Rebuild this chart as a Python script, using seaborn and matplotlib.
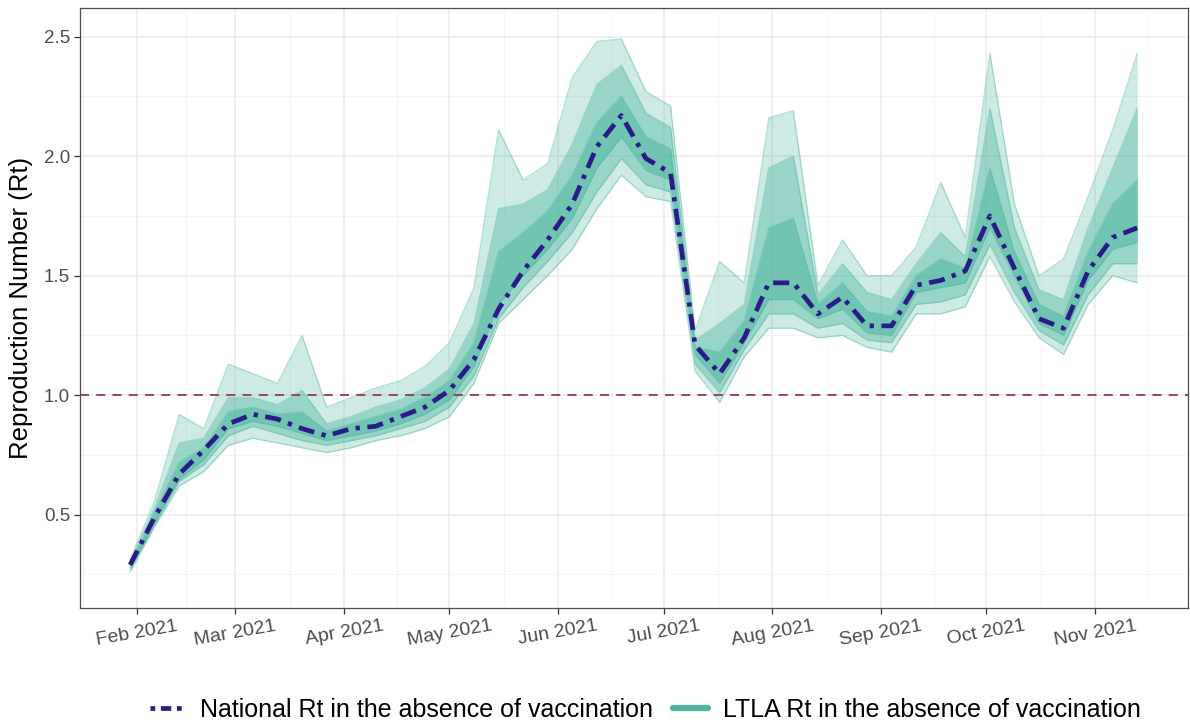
import numpy as np
import pandas as pd
import matplotlib
matplotlib.use("Agg")
import matplotlib.pyplot as plt
import matplotlib.dates as mdates
from matplotlib.lines import Line2D
import seaborn as sns

# weekly estimates, Sat 30 Jan -> Sat 13 Nov 2021
weeks = pd.date_range("2021-01-30", periods=42, freq="7D")

national_rt = [0.29, 0.49, 0.67, 0.77, 0.88, 0.92, 0.90, 0.86, 0.83, 0.86,
               0.87, 0.91, 0.95, 1.02, 1.15, 1.36, 1.52, 1.65, 1.80, 2.04,
               2.17, 1.99, 1.93, 1.21, 1.09, 1.24, 1.47, 1.47, 1.34, 1.41,
               1.29, 1.29, 1.46, 1.48, 1.52, 1.75, 1.53, 1.32, 1.28, 1.52,
               1.66, 1.70]

# spread of the LTLA curves (envelope / inner bands)
ltla_min = [0.26, 0.45, 0.62, 0.68, 0.79, 0.82, 0.80, 0.78, 0.76, 0.78,
            0.81, 0.83, 0.86, 0.91, 1.05, 1.30, 1.40, 1.50, 1.61, 1.78,
            1.92, 1.83, 1.81, 1.10, 0.97, 1.16, 1.28, 1.28, 1.24, 1.25,
            1.20, 1.18, 1.34, 1.34, 1.37, 1.58, 1.39, 1.24, 1.17, 1.38,
            1.50, 1.47]
ltla_p10 = [0.27, 0.46, 0.64, 0.71, 0.83, 0.87, 0.84, 0.81, 0.79, 0.81,
            0.83, 0.86, 0.89, 0.95, 1.08, 1.32, 1.45, 1.56, 1.68, 1.85,
            1.99, 1.88, 1.85, 1.13, 1.01, 1.19, 1.34, 1.34, 1.28, 1.30,
            1.23, 1.22, 1.38, 1.39, 1.42, 1.63, 1.43, 1.27, 1.21, 1.42,
            1.55, 1.55]
ltla_p25 = [0.28, 0.47, 0.65, 0.73, 0.86, 0.89, 0.87, 0.84, 0.81, 0.83,
            0.85, 0.88, 0.92, 0.98, 1.12, 1.38, 1.50, 1.61, 1.74, 1.95,
            2.08, 1.94, 1.90, 1.17, 1.05, 1.22, 1.40, 1.40, 1.32, 1.36,
            1.26, 1.25, 1.43, 1.45, 1.47, 1.70, 1.50, 1.30, 1.25, 1.48,
            1.61, 1.64]
ltla_p75 = [0.29, 0.51, 0.72, 0.78, 0.93, 0.95, 0.92, 0.93, 0.85, 0.88,
            0.91, 0.94, 0.99, 1.06, 1.22, 1.60, 1.68, 1.77, 1.92, 2.14,
            2.25, 2.08, 2.03, 1.20, 1.18, 1.31, 1.70, 1.74, 1.38, 1.47,
            1.35, 1.33, 1.50, 1.57, 1.53, 1.95, 1.60, 1.38, 1.33, 1.60,
            1.80, 1.90]
ltla_p90 = [0.30, 0.53, 0.80, 0.82, 0.99, 0.99, 0.96, 1.02, 0.88, 0.91,
            0.95, 0.98, 1.03, 1.11, 1.30, 1.78, 1.80, 1.86, 2.05, 2.30,
            2.38, 2.18, 2.12, 1.23, 1.30, 1.38, 1.95, 2.00, 1.42, 1.55,
            1.43, 1.40, 1.55, 1.68, 1.58, 2.20, 1.70, 1.44, 1.40, 1.70,
            1.95, 2.20]
ltla_max = [0.31, 0.56, 0.92, 0.86, 1.13, 1.09, 1.05, 1.25, 0.95, 0.99,
            1.03, 1.06, 1.12, 1.22, 1.45, 2.11, 1.90, 1.97, 2.33, 2.48,
            2.49, 2.27, 2.21, 1.27, 1.56, 1.47, 2.16, 2.19, 1.46, 1.65,
            1.50, 1.50, 1.62, 1.89, 1.66, 2.43, 1.80, 1.50, 1.57, 1.83,
            2.11, 2.43]

month_ticks = pd.date_range("2021-02-01", "2021-11-01", freq="MS")

teal = "#4bb59e"
navy = "#2b1b89"
maroon = "#8e3a5f"

sns.set_theme(style="whitegrid", rc={"axes.edgecolor": "#4d4d4d",
                                     "grid.color": "#ebebeb",
                                     "axes.linewidth": 0.9})
plt.rcParams['font.family'] = ['Liberation Sans', 'DejaVu Sans']

fig, ax = plt.subplots(figsize=(11.9, 7.22), dpi=100)
fig.subplots_adjust(left=0.067, right=0.998, top=0.989, bottom=0.158)

# shaded density of the LTLA curves
ax.fill_between(weeks, ltla_min, ltla_max, color=teal, alpha=0.27, lw=0)
ax.fill_between(weeks, ltla_p10, ltla_p90, color=teal, alpha=0.40, lw=0)
ax.fill_between(weeks, ltla_p25, ltla_p75, color=teal, alpha=0.50, lw=0)

band = pd.DataFrame({"date": weeks, "min": ltla_min, "p10": ltla_p10,
                     "p25": ltla_p25, "p75": ltla_p75, "p90": ltla_p90,
                     "max": ltla_max})
long = band.melt(id_vars="date", var_name="curve", value_name="rt")
sns.lineplot(data=long, x="date", y="rt", units="curve", estimator=None,
             color=teal, alpha=0.4, lw=1.0, ax=ax, legend=False)

ax.axhline(1.0, color=maroon, lw=1.3, ls=(0, (5, 4)))

sns.lineplot(x=weeks, y=national_rt, color=navy, lw=3.4, ax=ax,
             linestyle=(0, (3.4, 1.6, 0.9, 1.6)))

# axes
span = weeks[-1] - weeks[0]
ax.set_xlim(weeks[0] - span * 0.05, weeks[-1] + span * 0.05)
ax.set_ylim(0.11, 2.62)
ax.set_yticks([0.5, 1.0, 1.5, 2.0, 2.5])
ax.set_yticklabels(["0.5", "1.0", "1.5", "2.0", "2.5"])
ax.set_yticks([0.25, 0.75, 1.25, 1.75, 2.25], minor=True)

ax.set_xticks(month_ticks)
ax.set_xticklabels([d.strftime("%b %Y") for d in month_ticks],
                   rotation=10, ha="center")
all_months = pd.date_range("2021-01-01", "2021-12-01", freq="MS")
mnum = mdates.date2num(all_months)
ax.set_xticks((mnum[:-1] + mnum[1:]) / 2, minor=True)

ax.grid(which="major", color="#ebebeb", lw=1.1)
ax.grid(which="minor", color="#f2f2f2", lw=0.6)
ax.tick_params(which="major", bottom=True, left=True, length=4,
               width=0.9, color="#333333", labelsize=14, labelcolor="#4d4d4d",
               pad=3)
ax.tick_params(axis="y", labelsize=13.5)
ax.tick_params(which="minor", bottom=False, left=False)
ax.set_xlabel("")
ax.set_ylabel("Reproduction Number (Rt)", fontsize=18.5, color="black", labelpad=8)

handles = [Line2D([], [], color=navy, lw=3.4, linestyle=(0, (1, 1.2, 2.2, 1.2))),
           Line2D([], [], color=teal, lw=4.5)]
labels = ["National Rt in the absence of vaccination",
          "LTLA Rt in the absence of vaccination"]
fig.legend(handles, labels, loc="lower center", bbox_to_anchor=(0.542, -0.031),
           ncol=2, frameon=False, fontsize=18, handlelength=1.4,
           columnspacing=0.8, handletextpad=0.6, labelcolor="black")

fig.savefig("out.png", dpi=100)
